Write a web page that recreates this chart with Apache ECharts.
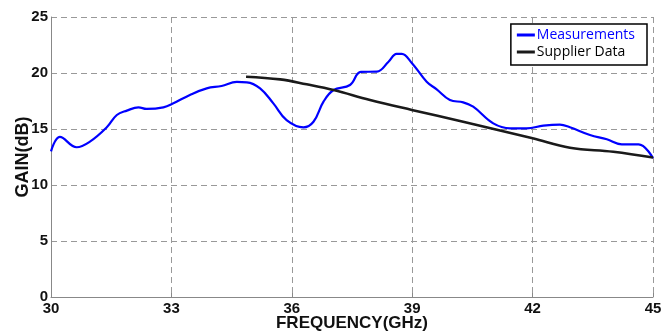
<!DOCTYPE html>
<html><head><meta charset="utf-8">
<script src="https://cdn.jsdelivr.net/npm/echarts@6/dist/echarts.min.js"></script>
<style>html,body{margin:0;padding:0;background:#fff}#c{width:663px;height:335px}</style>
</head><body><div id="c"></div>
<script>
const xTicks = [30, 33, 36, 39, 42, 45];
const yTicks = [0, 5, 10, 15, 20, 25];
const measFreq = [30.0,30.22,30.64,30.97,31.39,31.64,31.89,32.18,32.38,32.8,33.05,33.46,33.88,34.25,34.63,34.88,35.21,35.54,35.87,36.29,36.54,36.79,37.04,37.45,37.72,38.12,38.41,38.61,38.74,38.99,39.36,39.61,39.94,40.27,40.52,41.02,41.44,41.85,42.27,42.68,42.93,43.43,43.85,44.22,44.64,45.0];
const measGain = [13.0,14.3,13.37,13.87,15.15,16.25,16.64,16.93,16.79,16.93,17.29,18.04,18.63,18.84,19.2,19.17,18.63,17.29,15.8,15.15,15.65,17.44,18.48,18.93,20.1,20.12,21.0,21.7,21.7,20.9,19.22,18.54,17.59,17.38,16.99,15.5,15.06,15.06,15.3,15.39,15.15,14.46,14.08,13.63,13.63,12.4];
const suppFreq = [34.86,35.71,36.37,37.04,37.95,38.99,40.27,42.0,42.93,44.01,45.0];
const suppGain = [19.67,19.43,18.99,18.48,17.59,16.7,15.65,14.17,13.33,12.97,12.45];

const pair = (xs, ys) => xs.map((x, i) => [x, ys[i]]);
const chart = echarts.init(document.getElementById('c'), null, {renderer: 'canvas'});
const axisFont = {fontFamily: 'Liberation Sans', fontWeight: 'bold', fontSize: 15, color: '#111'};
chart.setOption({
  animation: false,
  grid: {left: 51, right: 10, top: 17, bottom: 38, containLabel: false, outerBoundsMode: 'none'},
  legend: {
    right: 16, top: 24, orient: 'vertical',
    backgroundColor: '#fff', borderColor: '#000', borderWidth: 1.5, borderRadius: 0,
    padding: [4, 12, 6, 6], itemGap: 3, itemWidth: 18, itemHeight: 3,
    icon: 'rect',
    textStyle: {fontFamily: 'Open Sans', fontSize: 14, padding: [0, 0, 0, -3]},
    data: [
      {name: 'Measurements', textStyle: {color: '#0000ff'}},
      {name: 'Supplier Data', textStyle: {color: '#000'}}
    ]
  },
  xAxis: {
    type: 'value', min: 30, max: 45, interval: 3,
    name: 'FREQUENCY(GHz)', nameLocation: 'middle', nameGap: 18, nameMoveOverlap: false,
    nameTextStyle: {fontFamily: 'Liberation Sans', fontWeight: 'bold', fontSize: 17, color: '#111'},
    axisLine: {show: true, lineStyle: {color: '#888', width: 1}},
    axisTick: {show: true, inside: true, length: 4, lineStyle: {color: '#888'}},
    axisLabel: Object.assign({margin: 4, formatter: v => xTicks.includes(v) ? String(v) : ''}, axisFont),
    splitLine: {show: true, lineStyle: {color: '#999', type: [6, 4], width: 1}}
  },
  yAxis: {
    type: 'value', min: 0, max: 25, interval: 5,
    name: 'GAIN(dB)', nameLocation: 'middle', nameGap: 19, nameRotate: 90, nameMoveOverlap: false,
    nameTextStyle: {fontFamily: 'Liberation Sans', fontWeight: 'bold', fontSize: 18, color: '#111'},
    axisLine: {show: true, lineStyle: {color: '#888', width: 1}},
    axisTick: {show: false},
    axisLabel: Object.assign({margin: 3, formatter: v => yTicks.includes(v) ? String(v) : ''}, axisFont),
    splitLine: {show: true, lineStyle: {color: '#999', type: [6, 4], width: 1}}
  },
  series: [
    {name: 'Measurements', type: 'line', data: pair(measFreq, measGain), smooth: 0.4, showSymbol: false,
     lineStyle: {color: '#0000ff', width: 2.2}, itemStyle: {color: '#0000ff'}},
    {name: 'Supplier Data', type: 'line', data: pair(suppFreq, suppGain), smooth: 0.4, showSymbol: false,
     lineStyle: {color: '#1a1a1a', width: 2.6}, itemStyle: {color: '#1a1a1a'}}
  ]
});
</script></body></html>
